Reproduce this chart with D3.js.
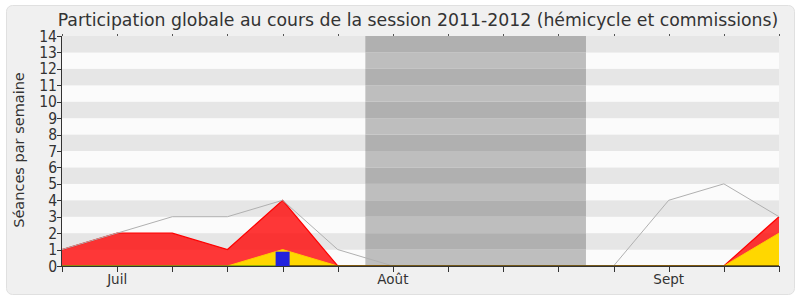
<!DOCTYPE html>
<html><head><meta charset="utf-8">
<script src="https://cdn.jsdelivr.net/npm/d3@7"></script>
<style>body{margin:0;background:#fff}svg{display:block}</style>
</head><body>
<svg id="c" width="800" height="300"></svg>
<script>
const weeks = d3.range(14);
const total = [1, 2, 3, 3, 4, 1, 0, 0, 0, 0, 0, 4, 5, 3];
const presence = [1, 2, 2, 1, 4, 0, 0, 0, 0, 0, 0, 0, 0, 3];
const interventions = [0, 0, 0, 0, 1, 0, 0, 0, 0, 0, 0, 0, 0, 2];
const questions = [0, 0, 0, 0, 0.87, 0, 0, 0, 0, 0, 0, 0, 0, 0];
const monthLabels = [{i: 1, t: "Juil"}, {i: 6, t: "Août"}, {i: 11, t: "Sept"}];
const vacation = [5.5, 9.5];
const yTicks = d3.range(0, 15);

const svg = d3.select("#c");
const font = "DejaVu Sans, Verdana, sans-serif";
const fontC = "DejaVu Sans Condensed, DejaVu Sans, sans-serif";
svg.append("rect").attr("x", 6.5).attr("y", 5.5).attr("width", 788).attr("height", 289)
  .attr("rx", 6).attr("fill", "#f0f0f0").attr("stroke", "#e0e0e0");

const L = 62, R = 779, T = 36, B = 266;
const x = d3.scaleLinear().domain([0, 13]).range([L, R]);
const y = d3.scaleLinear().domain([0, 14]).range([B, T]);

// bands
const g = svg.append("g");
yTicks.slice(0, 14).forEach(v => {
  g.append("rect").attr("x", L).attr("width", R - L)
    .attr("y", y(v + 1)).attr("height", y(v) - y(v + 1))
    .attr("fill", v % 2 === 0 ? "#fbfbfb" : "#e6e6e6");
});
yTicks.slice(0, 14).forEach(v => {
  g.append("rect").attr("x", x(vacation[0])).attr("width", x(vacation[1]) - x(vacation[0]))
    .attr("y", y(v + 1)).attr("height", y(v) - y(v + 1))
    .attr("fill", v % 2 === 0 ? "#bebebe" : "#b0b0b0");
});

const area = arr => d3.area().x((d, i) => x(i)).y0(y(0)).y1(d => y(d))(arr);
const line = arr => d3.line().x((d, i) => x(i)).y(d => y(d))(arr);

svg.append("path").attr("d", area(presence)).attr("fill", "rgba(255,0,0,0.78)");
svg.append("path").attr("d", line(presence)).attr("fill", "none").attr("stroke", "#ff0000").attr("stroke-width", 1.2);
svg.append("path").attr("d", area(interventions)).attr("fill", "#ffd700");
svg.append("path").attr("d", line(interventions)).attr("fill", "none").attr("stroke", "#ffcc00").attr("stroke-width", 1);
svg.append("path").attr("d", line(total)).attr("fill", "none").attr("stroke", "#b0b0b0").attr("stroke-width", 1);
// bottom lines
svg.append("path").attr("d", line(weeks.map(() => 0))).attr("fill", "none").attr("stroke", "#2a8a00").attr("stroke-width", 1);
svg.append("path").attr("d", d3.line().x((d,i)=>x(i)).y(d=>y(d)).defined((d,i)=>presence[i]===0 || presence[i+1]===0 || (i>0 && presence[i-1]===0))(presence.map(()=>0)))
  .attr("fill", "none").attr("stroke", "#6b1a00").attr("stroke-width", 1);

// blue bars
questions.forEach((q, i) => {
  if (q > 0) svg.append("rect").attr("x", x(i) - 7).attr("width", 14)
    .attr("y", y(q)).attr("height", y(0) - y(q)).attr("fill", "#2222dd");
});

// axes
const ax = svg.append("g").attr("stroke", "#333").attr("stroke-width", 1);
ax.append("line").attr("x1", L - 0.5).attr("x2", L - 0.5).attr("y1", T).attr("y2", B + 0.5);
ax.append("line").attr("x1", L).attr("x2", R).attr("y1", B + 0.5).attr("y2", B + 0.5);
yTicks.forEach(v => {
  ax.append("line").attr("x1", L - 5).attr("x2", L).attr("y1", Math.round(y(v)) + 0.5).attr("y2", Math.round(y(v)) + 0.5);
});
weeks.forEach(i => {
  const xx = Math.round(x(i)) + 0.5;
  ax.append("line").attr("x1", xx).attr("x2", xx).attr("y1", B).attr("y2", B + 6);
  ax.append("line").attr("x1", xx).attr("x2", xx).attr("y1", T - 2).attr("y2", T).attr("stroke", "#555");
});
svg.append("g").selectAll("text").data(yTicks).join("text")
  .attr("x", L - 5).attr("y", d => y(d) + 5.5).attr("text-anchor", "end")
  .attr("font-family", fontC).attr("font-size", 15.5).attr("fill", "#333").text(d => d);
svg.append("g").selectAll("text").data(monthLabels).join("text")
  .attr("x", d => x(d.i)).attr("y", 284).attr("text-anchor", "middle")
  .attr("font-family", font).attr("font-size", 13.5).attr("fill", "#333").text(d => d.t);
svg.append("text").attr("transform", "translate(24,150) rotate(-90)").attr("text-anchor", "middle")
  .attr("font-family", font).attr("font-size", 14.5).attr("fill", "#333").text("Séances par semaine");
svg.append("text").attr("x", 418).attr("y", 26).attr("text-anchor", "middle")
  .attr("font-family", font).attr("font-size", 17.3).attr("fill", "#333")
  .text("Participation globale au cours de la session 2011-2012 (hémicycle et commissions)");
</script>
</body></html>
